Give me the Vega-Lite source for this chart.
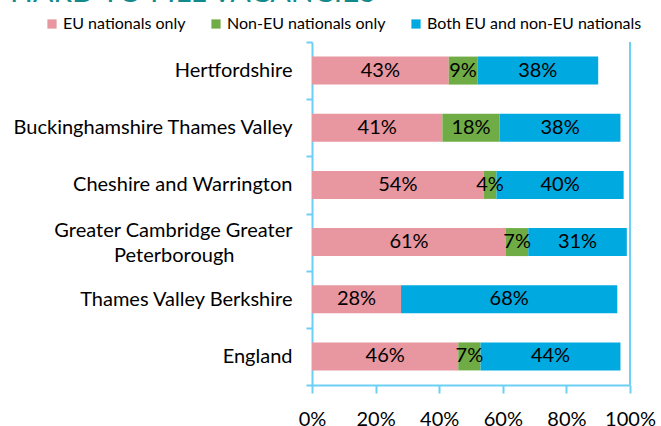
{
  "$schema": "https://vega.github.io/schema/vega-lite/v6.json",
  "width": 318,
  "height": 343,
  "autosize": {"type": "none"},
  "padding": {"left": 312, "top": 42, "right": 31, "bottom": 41},
  "background": "white",
  "title": {
    "text": "HARD TO FILL VACANCIES",
    "anchor": "start",
    "frame": "group",
    "font": "Lato",
    "fontSize": 30,
    "fontWeight": "normal",
    "color": "#12898B",
    "baseline": "alphabetic",
    "offset": 0,
    "dy": 16,
    "dx": -302
  },
  "config": {"view": {"stroke": null}, "font": "Lato"},
  "data": {
    "values": [
      {"region": "Hertfordshire", "series": "EU nationals only", "rank": 1, "value": 0.43},
      {"region": "Hertfordshire", "series": "Non-EU nationals only", "rank": 2, "value": 0.09},
      {"region": "Hertfordshire", "series": "Both EU and non-EU nationals", "rank": 3, "value": 0.38},
      {"region": "Buckinghamshire Thames Valley", "series": "EU nationals only", "rank": 1, "value": 0.41},
      {"region": "Buckinghamshire Thames Valley", "series": "Non-EU nationals only", "rank": 2, "value": 0.18},
      {"region": "Buckinghamshire Thames Valley", "series": "Both EU and non-EU nationals", "rank": 3, "value": 0.38},
      {"region": "Cheshire and Warrington", "series": "EU nationals only", "rank": 1, "value": 0.54},
      {"region": "Cheshire and Warrington", "series": "Non-EU nationals only", "rank": 2, "value": 0.04},
      {"region": "Cheshire and Warrington", "series": "Both EU and non-EU nationals", "rank": 3, "value": 0.40},
      {"region": "Greater Cambridge Greater Peterborough", "series": "EU nationals only", "rank": 1, "value": 0.61},
      {"region": "Greater Cambridge Greater Peterborough", "series": "Non-EU nationals only", "rank": 2, "value": 0.07},
      {"region": "Greater Cambridge Greater Peterborough", "series": "Both EU and non-EU nationals", "rank": 3, "value": 0.31},
      {"region": "Thames Valley Berkshire", "series": "EU nationals only", "rank": 1, "value": 0.28},
      {"region": "Thames Valley Berkshire", "series": "Non-EU nationals only", "rank": 2, "value": 0.0},
      {"region": "Thames Valley Berkshire", "series": "Both EU and non-EU nationals", "rank": 3, "value": 0.68},
      {"region": "England", "series": "EU nationals only", "rank": 1, "value": 0.46},
      {"region": "England", "series": "Non-EU nationals only", "rank": 2, "value": 0.07},
      {"region": "England", "series": "Both EU and non-EU nationals", "rank": 3, "value": 0.44}
    ]
  },
  "transform": [
    {"stack": "value", "groupby": ["region"], "sort": [{"field": "rank", "order": "ascending"}], "as": ["v0", "v1"]},
    {"calculate": "(datum.v0 + datum.v1) / 2", "as": "mid"}
  ],
  "layer": [
    {
      "mark": {"type": "bar", "size": 28},
      "encoding": {
        "y": {
          "field": "region",
          "type": "nominal",
          "sort": ["Hertfordshire", "Buckinghamshire Thames Valley", "Cheshire and Warrington", "Greater Cambridge Greater Peterborough", "Thames Valley Berkshire", "England"],
          "scale": {"paddingInner": 0, "paddingOuter": 0},
          "axis": {
            "title": null,
            "labelFontSize": 20,
            "labelColor": "#000000",
            "labelLimit": 400,
            "labelPadding": 14,
            "labelLineHeight": 25,
            "labelOffset": {"condition": {"test": "datum.label == 'Greater Cambridge Greater Peterborough'", "value": -12}, "value": 0},
            "labelExpr": "datum.label == 'Greater Cambridge Greater Peterborough' ? ['Greater Cambridge Greater', 'Peterborough\u2007\u2007\u2007\u2007\u2007\u200b'] : datum.label",
            "tickBand": "extent",
            "tickSize": 6,
            "tickWidth": 2,
            "tickColor": "#6CCFF6",
            "domainColor": "#6CCFF6",
            "domainWidth": 2
          }
        },
        "x": {
          "field": "v0",
          "type": "quantitative",
          "scale": {"domain": [0, 1], "nice": false},
          "axis": {
            "title": null,
            "values": [0, 0.2, 0.4, 0.6, 0.8, 1],
            "format": ".0%",
            "grid": false,
            "labelFontSize": 20,
            "labelColor": "#000000",
            "labelPadding": 16,
            "labelFlush": false,
            "labelOverlap": false,
            "tickSize": 8,
            "tickWidth": 2,
            "tickColor": "#6CCFF6",
            "domainColor": "#6CCFF6",
            "domainWidth": 2
          }
        },
        "x2": {"field": "v1"},
        "color": {
          "field": "series",
          "type": "nominal",
          "scale": {
            "domain": ["EU nationals only", "Non-EU nationals only", "Both EU and non-EU nationals"],
            "range": ["#E8969F", "#6FAC46", "#00A9E0"]
          },
          "legend": {
            "title": null,
            "orient": "none",
            "direction": "horizontal",
            "columns": 3,
            "legendX": -268,
            "legendY": -26,
            "symbolType": "square",
            "symbolSize": 85,
            "symbolStrokeWidth": 0,
            "labelFontSize": 16,
            "labelColor": "#000000",
            "labelOffset": 3,
            "columnPadding": 22,
            "labelLimit": 400
          }
        }
      }
    },
    {
      "transform": [{"filter": "datum.value > 0"}],
      "mark": {"type": "text", "fontSize": 20, "color": "#000000"},
      "encoding": {
        "y": {
          "field": "region",
          "type": "nominal",
          "sort": ["Hertfordshire", "Buckinghamshire Thames Valley", "Cheshire and Warrington", "Greater Cambridge Greater Peterborough", "Thames Valley Berkshire", "England"]
        },
        "x": {"field": "mid", "type": "quantitative"},
        "text": {"field": "value", "type": "quantitative", "format": ".0%"}
      }
    },
    {
      "mark": {"type": "rule", "color": "#6CCFF6", "strokeWidth": 2},
      "encoding": {"x": {"datum": 1}}
    }
  ]
}
